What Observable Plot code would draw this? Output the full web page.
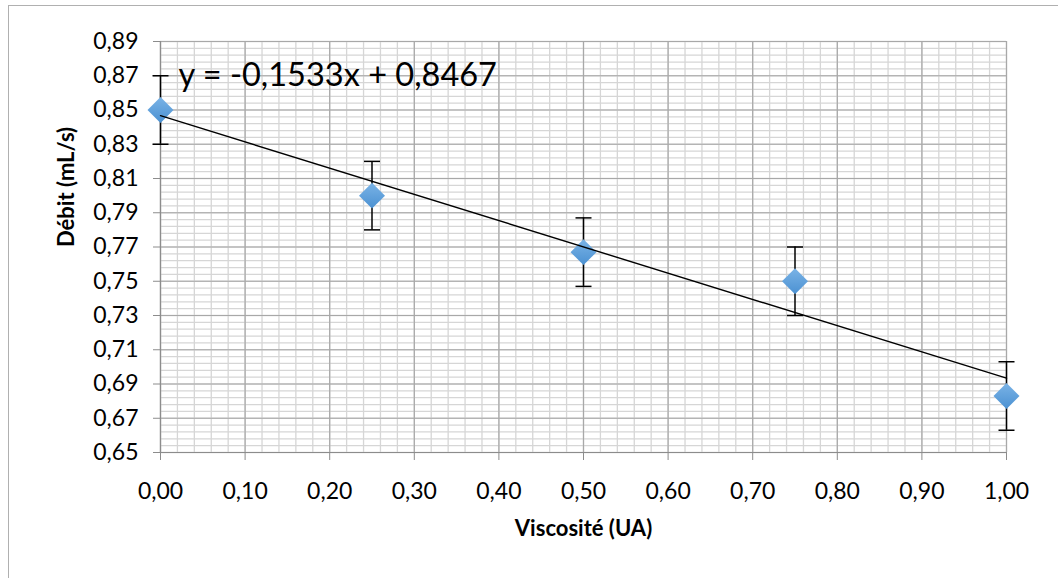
<!DOCTYPE html>
<html>
<head>
<meta charset="utf-8">
<script src="https://cdn.jsdelivr.net/npm/d3@7"></script>
<script src="https://cdn.jsdelivr.net/npm/@observablehq/plot@0.6"></script>
<style>
  html, body { margin: 0; padding: 0; background: #fff; }
  #wrap { position: relative; width: 1058px; height: 578px; overflow: hidden; }
  #frame { position: absolute; left: 8px; top: 5px; width: 1200px; height: 700px; border-left: 1.5px solid #b0b0b0; border-top: 1.5px solid #b0b0b0; }
  #chart { position: absolute; left: 0; top: 0; }
</style>
</head>
<body>
<div id="wrap"><div id="frame"></div><div id="chart"></div></div>
<script>
// Data
const viscosite = [0, 0.25, 0.5, 0.75, 1.0];
const debit = [0.85, 0.80, 0.767, 0.75, 0.683];
const erreur = [0.02, 0.02, 0.02, 0.02, 0.02];
const pente = -0.1533;
const ordonnee = 0.8467;
const trendLabel = "y = -0,1533x + 0,8467";
const xTicks = [0, 0.1, 0.2, 0.3, 0.4, 0.5, 0.6, 0.7, 0.8, 0.9, 1.0];
const yTicks = [0.65, 0.67, 0.69, 0.71, 0.73, 0.75, 0.77, 0.79, 0.81, 0.83, 0.85, 0.87, 0.89];
const xLabel = "Viscosité (UA)";
const yLabel = "Débit (mL/s)";

const points = viscosite.map((x, i) => ({x, y: debit[i], e: erreur[i]}));
const trend = [0, 1].map(x => ({x, y: pente * x + ordonnee}));

const xMinor = d3.range(0, 51).map(i => i * 0.02);
const yMinor = d3.range(0, 61).map(i => 0.65 + i * 0.004);
const fmt = d => d.toFixed(2).replace(".", ",");

const capSymbol = { draw(ctx) { ctx.moveTo(-8, 0); ctx.lineTo(8, 0); } };

const chart = Plot.plot({
  width: 1058,
  height: 578,
  marginLeft: 160,
  marginRight: 52,
  marginTop: 41,
  marginBottom: 126,
  style: { fontFamily: "Lato, 'Open Sans', sans-serif", fontSize: "23px", background: "transparent" },
  x: { domain: [0, 1] },
  y: { domain: [0.65, 0.89] },
  marks: [
    Plot.ruleX(xMinor, { stroke: "#d6d6d6", strokeWidth: 1.3 }),
    Plot.ruleY(yMinor, { stroke: "#d6d6d6", strokeWidth: 1.3 }),
    Plot.ruleX(xTicks, { stroke: "#a8a8a8", strokeWidth: 1.2 }),
    Plot.ruleY(yTicks, { stroke: "#a8a8a8", strokeWidth: 1.2 }),
    Plot.axisY({ ticks: yTicks, tickSize: 7, tickPadding: 15, tickFormat: fmt, fontSize: 23, stroke: "#8c8c8c", fill: "#000", label: null }),
    Plot.axisX({ ticks: xTicks, tickSize: 8, tickPadding: 22, tickFormat: fmt, fontSize: 23, stroke: "#8c8c8c", fill: "#000", label: null }),
    Plot.ruleX([0], { stroke: "#8c8c8c", strokeWidth: 1.2 }),
    Plot.ruleY([0.65], { stroke: "#8c8c8c", strokeWidth: 1.2 }),
    Plot.ruleX(points, { x: "x", y1: d => d.y - d.e, y2: d => d.y + d.e, stroke: "#000", strokeWidth: 1.5 }),
    Plot.dot(points, { x: "x", y: d => d.y - d.e, symbol: capSymbol, stroke: "#000", strokeWidth: 1.5, fill: "none" }),
    Plot.dot(points, { x: "x", y: d => d.y + d.e, symbol: capSymbol, stroke: "#000", strokeWidth: 1.5, fill: "none" }),
    Plot.dot(points, { x: "x", y: "y", symbol: "diamond2", r: 11.7, fill: "url(#diaGrad)", stroke: "none" }),
    Plot.line(trend, { x: "x", y: "y", stroke: "#000", strokeWidth: 1.4 }),
    Plot.text([trendLabel], { frameAnchor: "top-left", dx: 18, dy: 34, text: d => d, textAnchor: "start", lineAnchor: "middle", fontSize: 32.5, fill: "#000" }),
    Plot.text([yLabel], { frameAnchor: "left", dx: -94, rotate: -90, text: d => d, fontSize: 22, fontWeight: "bold", fill: "#000" }),
    Plot.text([xLabel], { frameAnchor: "bottom", dy: 76, text: d => d, fontSize: 22, fontWeight: "bold", fill: "#000", lineAnchor: "middle" })
  ]
});

const defs = d3.select(chart).insert("defs", ":first-child");
const g = defs.append("linearGradient").attr("id", "diaGrad").attr("x1", "0").attr("y1", "0").attr("x2", "0").attr("y2", "1");
g.append("stop").attr("offset", "0%").attr("stop-color", "#7ab3e6");
g.append("stop").attr("offset", "100%").attr("stop-color", "#4b91d2");

document.getElementById("chart").appendChild(chart);
</script>
</body>
</html>
